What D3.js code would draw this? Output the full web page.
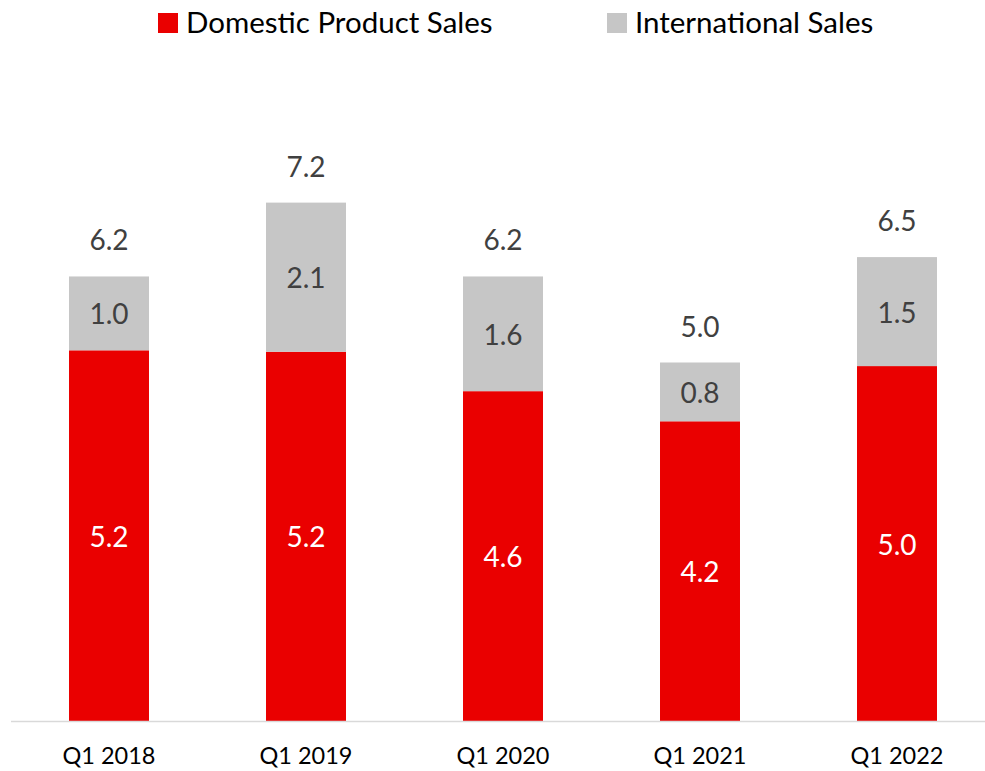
<!DOCTYPE html>
<html>
<head>
<meta charset="utf-8">
<script src="https://cdn.jsdelivr.net/npm/d3@7"></script>
<style>
  html, body { margin: 0; padding: 0; background: #fff; }
  svg text { font-family: Lato, "Open Sans", sans-serif; }
</style>
</head>
<body>
<svg id="chart" width="985" height="771"></svg>
<script>
// data
const quarters = ["Q1 2018", "Q1 2019", "Q1 2020", "Q1 2021", "Q1 2022"];
const domestic = [5.17, 5.15, 4.60, 4.18, 4.95];
const international = [1.03, 2.08, 1.60, 0.82, 1.52];
const seriesNames = ["Domestic Product Sales", "International Sales"];
const seriesColors = ["#EA0000", "#C6C6C6"];

const svg = d3.select("#chart");
const baseline = 721;

const x = d3.scaleBand()
    .domain(quarters)
    .range([10.5, 995.5])
    .paddingInner(0.594)
    .paddingOuter(0.297);

const y = d3.scaleLinear()
    .domain([0, 10])
    .range([baseline, 4]);

const rows = quarters.map((q, i) => ({ q, domestic: domestic[i], international: international[i] }));
const stacked = d3.stack().keys(["domestic", "international"])(rows);

// bars
const layers = svg.selectAll("g.layer")
    .data(stacked)
    .enter()
    .append("g")
    .attr("class", "layer")
    .attr("fill", (d, i) => seriesColors[i]);

layers.selectAll("rect")
    .data(d => d)
    .enter()
    .append("rect")
    .attr("x", d => x(d.data.q))
    .attr("y", d => y(d[1]))
    .attr("width", x.bandwidth())
    .attr("height", d => y(d[0]) - y(d[1]));

// segment labels
layers.selectAll("text")
    .data(d => d)
    .enter()
    .append("text")
    .attr("x", d => x(d.data.q) + x.bandwidth() / 2)
    .attr("y", d => (y(d[0]) + y(d[1])) / 2 + 11)
    .attr("text-anchor", "middle")
    .attr("font-size", 28)
    .attr("fill", (d, i, nodes) => d3.select(nodes[i].parentNode).datum().key === "domestic" ? "#ffffff" : "#404040")
    .text(d => (d[1] - d[0]).toFixed(1));

// totals
svg.selectAll("text.total")
    .data(rows)
    .enter()
    .append("text")
    .attr("class", "total")
    .attr("x", d => x(d.q) + x.bandwidth() / 2)
    .attr("y", d => y(d.domestic + d.international) - 26)
    .attr("text-anchor", "middle")
    .attr("font-size", 28)
    .attr("fill", "#404040")
    .text(d => (d.domestic + d.international).toFixed(1));

// category axis
const xAxis = svg.append("g")
    .attr("transform", `translate(0,${baseline + 0.5})`)
    .call(d3.axisBottom(x).tickSize(0).tickPadding(26));
xAxis.select(".domain")
    .attr("d", "M11,0H985")
    .attr("stroke", "#D9D9D9")
    .attr("stroke-width", 1.5);
xAxis.selectAll("text")
    .attr("font-size", 23.5)
    .attr("fill", "#000")
    .style("font-family", "Lato, 'Open Sans', sans-serif");

// legend
const legendX = [158, 607];
const legend = svg.selectAll("g.legend")
    .data(seriesNames)
    .enter()
    .append("g")
    .attr("class", "legend")
    .attr("transform", (d, i) => `translate(${legendX[i]},13)`);

legend.append("rect")
    .attr("width", 20)
    .attr("height", 20)
    .attr("fill", (d, i) => seriesColors[i]);

legend.append("text")
    .attr("x", 28)
    .attr("y", 20)
    .attr("font-size", 29.5)
    .attr("fill", "#000")
    .text(d => d);
</script>
</body>
</html>
